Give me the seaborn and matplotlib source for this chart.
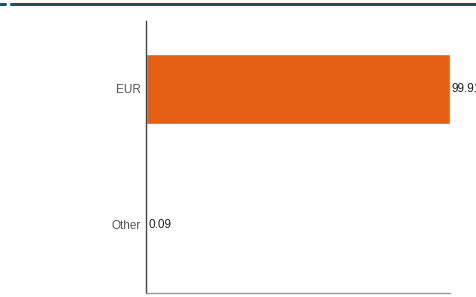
import matplotlib
matplotlib.use("Agg")
import matplotlib.pyplot as plt
from matplotlib.lines import Line2D
import pandas as pd
import seaborn as sns

currencies = ["EUR", "Other"]
shares = [99.91, 0.09]
value_labels = ["99.91", "0.09"]

sns.set_style("white")
plt.rcParams['font.family'] = ['Liberation Sans', 'DejaVu Sans']

df = pd.DataFrame({"currency": currencies, "share": shares})

fig = plt.figure(figsize=(4.76, 2.97), dpi=100)
ax = fig.add_axes([0.307, 0.0135, 0.638, 0.916])

sns.barplot(data=df, x="share", y="currency", orient="h", color="#E55F15",
            width=0.51, saturation=1, ax=ax)

for bar, lab in zip(ax.patches, value_labels):
    ax.text(bar.get_width() + 0.8, bar.get_y() + bar.get_height() / 2, lab,
            va="center", ha="left", fontsize=8.5, color="#222222", clip_on=False)

ax.set_xlim(0, 100)
ax.set_ylim(1.5, -0.5)
ax.set_xlabel("")
ax.set_ylabel("")
ax.set_xticks([])
ax.tick_params(axis="y", length=0, pad=4, labelsize=8.5, labelcolor="#555555")
sns.despine(ax=ax, top=True, right=True)
ax.spines["left"].set_color("#444444")
ax.spines["left"].set_linewidth(1.0)
ax.spines["bottom"].set_color("#999999")
ax.spines["bottom"].set_linewidth(1.0)

# header rule
fig.add_artist(Line2D([0, 5 / 476], [1 - 3.5 / 297] * 2, color="#1B4F72", lw=2.2,
                      transform=fig.transFigure))
fig.add_artist(Line2D([11 / 476, 1], [1 - 3.5 / 297] * 2, color="#1B4F72", lw=2.2,
                      transform=fig.transFigure))

fig.savefig("out.png", dpi=100)
